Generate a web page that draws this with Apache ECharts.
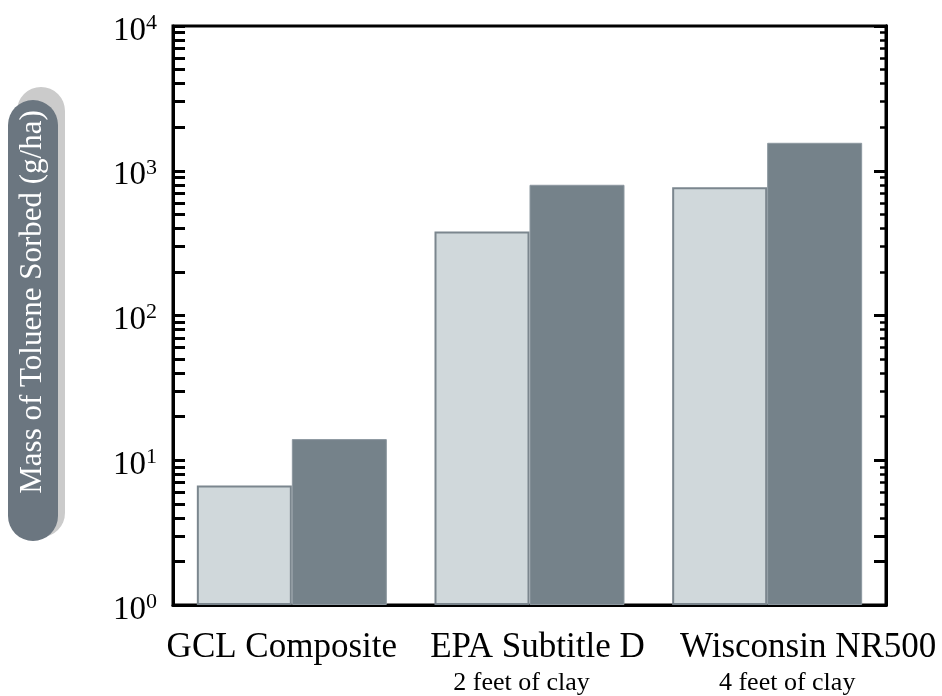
<!DOCTYPE html>
<html>
<head>
<meta charset="utf-8">
<script src="https://cdn.jsdelivr.net/npm/echarts@6/dist/echarts.min.js"></script>
<style>
  html, body { margin: 0; padding: 0; background: #fff; }
  #chart { width: 942px; height: 696px; }
</style>
</head>
<body>
<div id="chart"></div>
<script>
// data
var categories = ['GCL Composite', 'EPA Subtitle D', 'Wisconsin NR500'];
var subtitles = ['', '2 feet of clay', '4 feet of clay'];
var lightValues = [6.7, 380, 770];     // light bars
var darkValues = [14, 800, 1560];      // dark bars
var majorTicks = [1, 10, 100, 1000, 10000];
var minorTicks = [2, 3, 4, 5, 6, 7, 8, 9,
                  20, 30, 40, 50, 60, 70, 80, 90,
                  200, 300, 400, 500, 600, 700, 800, 900,
                  2000, 3000, 4000, 5000, 6000, 7000, 8000, 9000];
var rightLongTicks = [1, 2, 3, 10, 100, 1000, 10000];   // right side, longer ticks
var yTitle = 'Mass of Toluene Sorbed (g/ha)';

// label nudges (px) so the labels sit where the original has them
var mainShift = [-10, 8, 41];
var subShift = [0, -8, 20];

var serif = 'Liberation Serif';
var dom = document.getElementById('chart');
var myChart = echarts.init(dom);

function powLabel(v) {
  var e = Math.round(Math.log10(v));
  return '{b|10}{s|' + e + '}';
}

// rich styles for the category labels, one per nudge
function shiftPad(d) {
  return d >= 0 ? [0, 0, 0, 2 * d] : [0, -2 * d, 0, 0];
}
var catRich = {};
for (var i = 0; i < categories.length; i++) {
  catRich['m' + i] = { fontFamily: serif, fontSize: 35, lineHeight: 40, color: '#000', padding: shiftPad(mainShift[i]) };
  catRich['s' + i] = { fontFamily: serif, fontSize: 26, lineHeight: 30, color: '#000', padding: shiftPad(subShift[i]) };
}

var logAxisBase = {
  type: 'log',
  logBase: 10,
  min: 1,
  max: 10000,
  splitLine: { show: false },
  axisLine: { show: true, lineStyle: { color: '#000', width: 3 } }
};

var option = {
  animation: false,
  grid: {
    left: 173, right: 56, top: 26, bottom: 91,
    show: true, borderColor: '#000', borderWidth: 3
  },
  xAxis: {
    type: 'category',
    data: categories,
    axisLine: { lineStyle: { color: '#000', width: 3 } },
    axisTick: { show: false },
    axisLabel: {
      interval: 0,
      hideOverlap: false,
      margin: 23,
      color: '#000',
      fontFamily: serif,
      formatter: function (v, i) {
        return '{m' + i + '|' + v + '}\n{s' + i + '|' + subtitles[i] + '}';
      },
      rich: catRich
    }
  },
  yAxis: [
    Object.assign({}, logAxisBase, {
      position: 'left',
      axisTick: {
        show: true, inside: true, length: 12,
        lineStyle: { color: '#000', width: 3 },
        customValues: majorTicks.concat(minorTicks)
      },
      axisLabel: {
        margin: 60,
        align: 'left',
        customValues: majorTicks,
        formatter: powLabel,
        rich: {
          b: { fontFamily: serif, fontSize: 33, color: '#000', lineHeight: 34, padding: [10, 0, 0, 0] },
          s: { fontFamily: serif, fontSize: 22, color: '#000', lineHeight: 34, padding: [0, 0, 6, 0] }
        }
      }
    }),
    Object.assign({}, logAxisBase, {
      position: 'right',
      axisTick: {
        show: true, inside: true, length: 12,
        lineStyle: { color: '#000', width: 3 },
        customValues: rightLongTicks
      },
      axisLabel: { show: false }
    }),
    Object.assign({}, logAxisBase, {
      position: 'right',
      axisTick: {
        show: true, inside: true, length: 6,
        lineStyle: { color: '#000', width: 2.5 },
        customValues: minorTicks
      },
      axisLabel: { show: false }
    })
  ],
  series: [
    {
      name: 'light',
      type: 'bar',
      data: lightValues,
      barWidth: 95,
      barGap: '0%',
      itemStyle: { color: '#d0d8db', borderColor: '#7b868e', borderWidth: 2 }
    },
    {
      name: 'dark',
      type: 'bar',
      data: darkValues,
      barWidth: 95,
      barGap: '0%',
      itemStyle: { color: '#75828a', borderColor: '#8d98a0', borderWidth: 1 }
    }
  ],
  graphic: [
    // pill behind the y axis title
    { type: 'rect', shape: { x: 17, y: 87, width: 48, height: 450, r: 24 }, style: { fill: '#cbcbcb' }, z: 1 },
    { type: 'rect', shape: { x: 8, y: 100, width: 50, height: 441, r: 25 }, style: { fill: '#6b7680' }, z: 2 },
    {
      type: 'text', x: 33, y: 302, rotation: Math.PI / 2, z: 3,
      style: {
        text: yTitle, fill: '#fff', font: '31px "Liberation Serif"',
        align: 'center', verticalAlign: 'middle'
      }
    }
  ]
};

myChart.setOption(option);
window.addEventListener('resize', function () { myChart.resize(); });
</script>
</body>
</html>
